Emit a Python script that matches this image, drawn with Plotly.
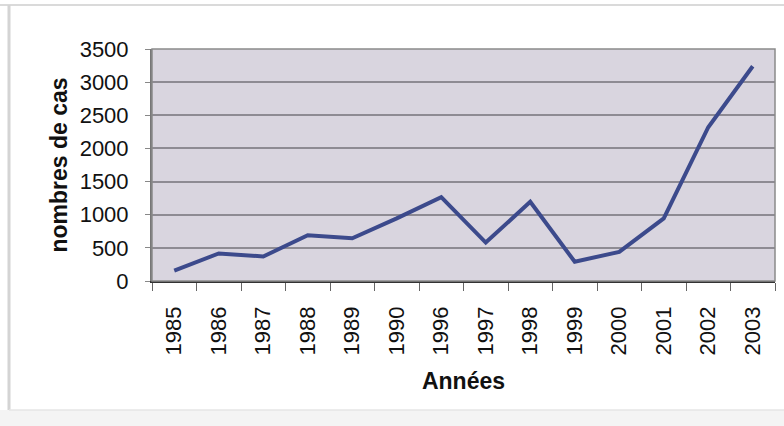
import plotly.graph_objects as go

# Number of cases per year
years = ["1985", "1986", "1987", "1988", "1989", "1990", "1996",
         "1997", "1998", "1999", "2000", "2001", "2002", "2003"]
cases = [155, 415, 370, 690, 645, 945, 1265, 580, 1195, 290, 440, 945, 2320, 3240]

y_ticks = [0, 500, 1000, 1500, 2000, 2500, 3000, 3500]

W, H = 784, 426
L, R, T, B = 152, 9, 49, 145
pw, ph = W - L - R, H - T - B


def px_x(px):
    return (px - L) / pw


def px_y(py):
    return 1 - (py - T) / ph


fig = go.Figure()
fig.add_trace(go.Scatter(
    x=years, y=cases, mode="lines",
    line=dict(color="#3c4a8c", width=4),
    hoverinfo="x+y",
))

font = "Arial, Liberation Sans, sans-serif"

fig.update_layout(
    width=W, height=H,
    margin=dict(l=L, r=R, t=T, b=B, pad=0, autoexpand=False),
    paper_bgcolor="white",
    plot_bgcolor="#d9d5df",
    showlegend=False,
    font=dict(family=font, color="#111111"),
    xaxis=dict(
        type="category",
        range=[-0.5, len(years) - 0.5],
        automargin=False,
        tickangle=-90,
        tickson="boundaries",
        ticks="outside", ticklen=8, tickcolor="#666666", tickwidth=1,
        ticklabelstandoff=15,
        tickfont=dict(size=22, family=font, color="#111111"),
        showgrid=False,
        showline=True, linecolor="#333333", linewidth=1.5,
        mirror=False,
        title=dict(text="<b>Années</b>", font=dict(size=23, family=font),
                   standoff=18),
    ),
    yaxis=dict(
        range=[0, 3500],
        automargin=False,
        tickvals=y_ticks,
        ticks="outside", ticklen=5, tickcolor="#888888",
        ticklabelstandoff=12,
        tickfont=dict(size=22, family=font, color="#111111"),
        showgrid=True, gridcolor="#8e8b93", gridwidth=1.5,
        zeroline=False,
        showline=True, linecolor="#777777", linewidth=2,
        title=dict(text="<b>nombres de cas</b>", font=dict(size=23, family=font),
                   standoff=6),
    ),
    shapes=[
        # plot frame (top and right edges)
        dict(type="rect", xref="paper", yref="paper", x0=0, x1=1, y0=0, y1=1,
             line=dict(color="#8a8a8a", width=1.5), layer="above"),
        # light strip along the bottom of the page
        dict(type="rect", xref="paper", yref="paper",
             x0=px_x(0), x1=px_x(W), y0=px_y(H), y1=px_y(410),
             fillcolor="#f4f4f4", line=dict(width=0), layer="below"),
        # outer chart border
        dict(type="line", xref="paper", yref="paper",
             x0=px_x(0), x1=px_x(W), y0=px_y(5), y1=px_y(5),
             line=dict(color="#dadada", width=2)),
        dict(type="line", xref="paper", yref="paper",
             x0=px_x(9), x1=px_x(9), y0=px_y(5), y1=px_y(410),
             line=dict(color="#d4d4d4", width=3)),
        dict(type="line", xref="paper", yref="paper",
             x0=px_x(9), x1=px_x(W), y0=px_y(410), y1=px_y(410),
             line=dict(color="#e6e6e6", width=1.5)),
    ],
)

fig.write_html("out.html")
